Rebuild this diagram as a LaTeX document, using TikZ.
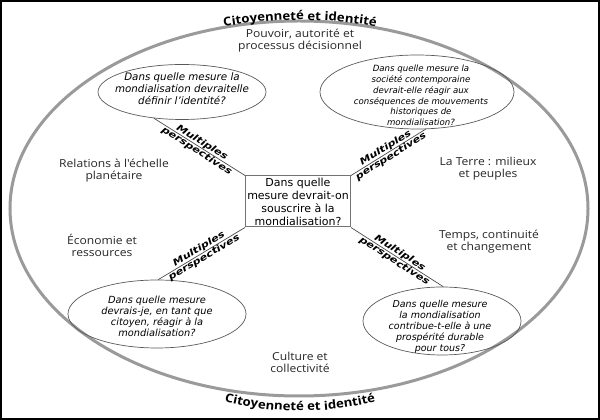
\documentclass[tikz,border=0pt]{standalone}
\usepackage{fontspec}
\setmainfont{DejaVu Sans}
\newfontfamily\themefont[FakeStretch=1.1]{Open Sans}
\newfontfamily\perspfont[FakeStretch=1.25]{DejaVu Sans}
\usetikzlibrary{positioning, shapes.geometric, decorations.text}
\definecolor{rim}{HTML}{9A9A9A}

\begin{document}
\begin{tikzpicture}[x=1pt, y=1pt,
  theme/.style={font=\themefont\fontsize{11}{12}\selectfont, align=center, text=black!85},
  ques/.style={font=\itshape\fontsize{9.5}{11}\selectfont, align=center},
  bubble/.style={ellipse, draw=black!65, line width=0.7pt, inner sep=0pt},
  link/.style={draw=black!70, line width=0.7pt},
  persp/.style={font=\perspfont\bfseries\itshape\fontsize{9}{10}\selectfont, align=center, sloped, midway}]
\useasboundingbox (0,0) rectangle (600,420);
% frame
\draw[line width=2pt] (1,1) rectangle (599,419);
% outer ellipse and its title
\draw[draw=rim, line width=3pt] (299,211.5) ellipse [x radius=289, y radius=187.5];
\path[decorate, decoration={text along path, text align=center,
  text={|\themefont\bfseries\fontsize{12}{13}\selectfont|Citoyenneté et identité}}]
  (300,-50) ++(110:450) arc[start angle=110, end angle=70, radius=450];
\path[decorate, decoration={text along path, text align=center,
  text={|\themefont\bfseries\fontsize{12}{13}\selectfont|Citoyenneté et identité}}]
  (300,309) ++(240:300) arc[start angle=240, end angle=300, radius=300];
% central question
\node[draw=black!55, line width=1pt, minimum width=105, minimum height=51, inner sep=1pt,
  align=center, font=\fontsize{11}{13}\selectfont] (mid) at (298,218.5)
  {Dans quelle\\mesure devrait-on\\souscrire à la\\mondialisation?};
% question bubbles
\node[bubble, minimum width=168, minimum height=55] (tl) at (182,328) {};
\node[ques, font=\itshape\fontsize{10.3}{12}\selectfont] (tlq) at (182,331)
  {Dans quelle mesure la\\mondialisation devraitelle\\définir l’identité?};
\node[bubble, minimum width=194, minimum height=74] (tr) at (417,328) {};
\node[ques, font=\itshape\fontsize{8.6}{10.8}\selectfont] (trq) at (421,324.5)
  {Dans quelle mesure la\\société contemporaine\\devrait-elle réagir aux\\conséquences de mouvements\\historiques de\\mondialisation?};
\node[bubble, minimum width=178, minimum height=68] (bl) at (157,106) {};
\node[ques, font=\itshape\fontsize{9.8}{11}\selectfont] (blq) at (157,103.5)
  {Dans quelle mesure\\devrais-je, en tant que\\citoyen, réagir à la\\mondialisation?};
\node[bubble, minimum width=158, minimum height=68] (br) at (442,99) {};
\node[ques] (brq) at (440,93)
  {Dans quelle mesure\\la mondialisation\\contribue-t-elle à une\\prospérité durable\\pour tous?};
% links
\draw[link] (mid.north west) -- (tl.223) node[persp] {Multiples\\perspectives};
\draw[link] (mid.north east) -- (tr.283) node[persp] {Multiples\\perspectives};
\draw[link] (mid.south west) -- (bl.88) node[persp] {Multiples\\perspectives};
\draw[link] (mid.south east) -- (br.88) node[persp] {Multiples\\perspectives};
% themes
\node[theme] (pouvoir) at (300,379) {Pouvoir, autorité et\\processus décisionnel};
\node[theme] (relations) at (114,249) {Relations à l\char39échelle\\planétaire};
\node[theme] (terre) at (488,251.5) {La Terre : milieux\\et peuples};
\node[theme] (economie) at (102,174.5) {Économie et\\ressources};
\node[theme] (temps) at (489,178.5) {Temps, continuité\\et changement};
\node[theme] (culture) at (300,58) {Culture et\\collectivité};
\end{tikzpicture}
\end{document}
